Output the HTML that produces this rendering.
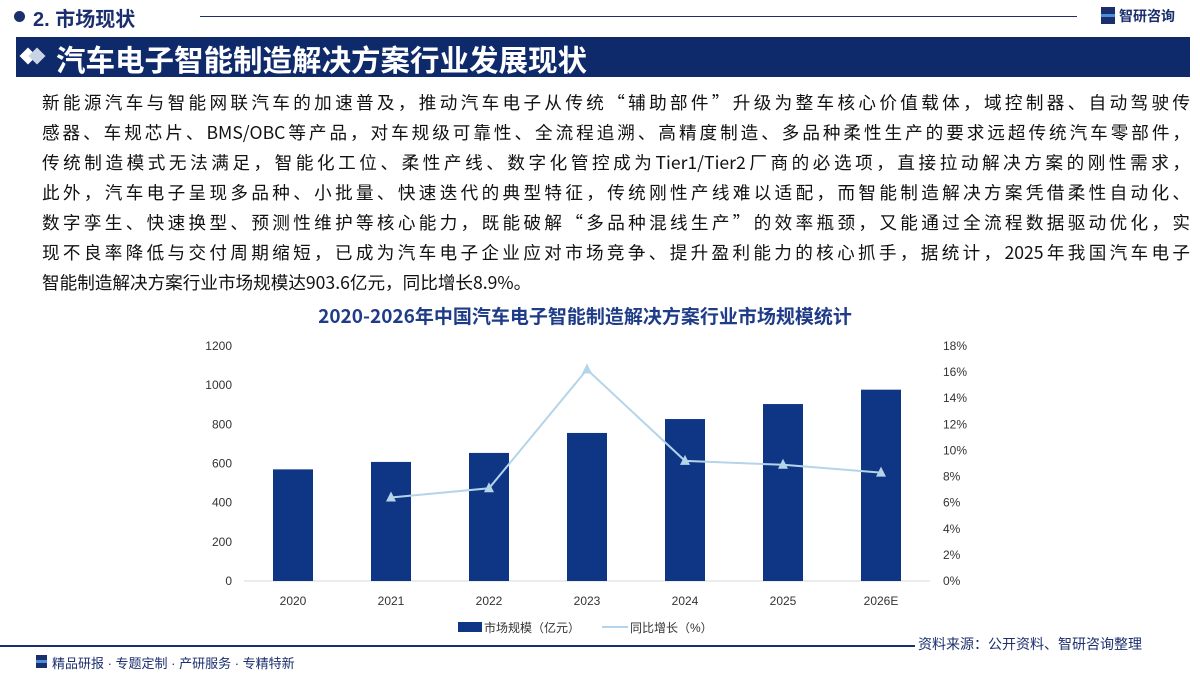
<!DOCTYPE html>
<html><head><meta charset="utf-8">
<style>
body{margin:0;width:1200px;height:674px;background:#fff;font-family:"Liberation Sans","Noto Sans CJK SC",sans-serif;position:relative;overflow:hidden;color:#111}
.abs{position:absolute}
.ln{position:absolute;left:42px;width:1148px;font-size:17.6px;height:30px;line-height:30px;color:#111;text-align:justify;text-align-last:justify;white-space:nowrap;font-family:"Noto Sans CJK SC",sans-serif}
.ln.last{text-align-last:left;width:auto}
</style></head><body>
<div class="abs" style="left:14px;top:11px;width:11px;height:11px;border-radius:50%;background:#1b2f6e"></div>
<div class="abs" style="left:33px;top:3px;font-size:20px;font-weight:bold;color:#1b2f6e">2. 市场现状</div>
<div class="abs" style="left:200px;top:16px;width:877px;height:1px;background:#1b2f6e"></div>
<div class="abs" style="left:1101px;top:7px;width:14px;height:17px;background:linear-gradient(#1b2f6e 0 40%,#4a90d9 40% 60%,#1b2f6e 60%)"></div>
<div class="abs" style="left:1119px;top:6px;font-size:14px;font-weight:bold;color:#1b2f6e">智研咨询</div>
<div class="abs" style="left:16px;top:37px;width:1174px;height:40px;background:#0f2a6b"></div>
<div class="abs" style="left:22px;top:50px;width:12px;height:12px;background:#fff;transform:rotate(45deg)"></div>
<div class="abs" style="left:31px;top:50px;width:12px;height:12px;background:#c9d3e6;transform:rotate(45deg)"></div>
<div class="abs" style="left:56px;top:38px;font-size:29.5px;font-weight:bold;color:#fff">汽车电子智能制造解决方案行业发展现状</div>
<div>
<div class="ln" style="top:88px">新能源汽车与智能网联汽车的加速普及，推动汽车电子从传统“辅助部件”升级为整车核心价值载体，域控制器、自动驾驶传</div>
<div class="ln" style="top:118px">感器、车规芯片、BMS/OBC等产品，对车规级可靠性、全流程追溯、高精度制造、多品种柔性生产的要求远超传统汽车零部件，</div>
<div class="ln" style="top:148px">传统制造模式无法满足，智能化工位、柔性产线、数字化管控成为Tier1/Tier2厂商的必选项，直接拉动解决方案的刚性需求，</div>
<div class="ln" style="top:178px">此外，汽车电子呈现多品种、小批量、快速迭代的典型特征，传统刚性产线难以适配，而智能制造解决方案凭借柔性自动化、</div>
<div class="ln" style="top:208px">数字孪生、快速换型、预测性维护等核心能力，既能破解“多品种混线生产”的效率瓶颈，又能通过全流程数据驱动优化，实</div>
<div class="ln" style="top:238px">现不良率降低与交付周期缩短，已成为汽车电子企业应对市场竞争、提升盈利能力的核心抓手，据统计，2025年我国汽车电子</div>
<div class="ln last" style="top:268px">智能制造解决方案行业市场规模达903.6亿元，同比增长8.9%。</div>
</div>
<div class="abs" style="left:0;width:1170px;text-align:center;top:302px;font-size:19px;font-weight:bold;color:#1f3c88;font-family:'Noto Sans CJK SC',sans-serif">2020-2026年中国汽车电子智能制造解决方案行业市场规模统计</div>
<svg class="abs" style="left:0;top:0" width="1200" height="674" id="chart"></svg>
<div class="abs" style="left:0;top:645px;width:915px;height:2px;background:#1b2f6e"></div>
<div class="abs" style="left:918px;top:634px;font-size:14px;color:#1b2f6e">资料来源：公开资料、智研咨询整理</div>
<div class="abs" style="left:36px;top:655px;width:11px;height:13px;background:linear-gradient(#1b2f6e 0 40%,#4a90d9 40% 60%,#1b2f6e 60%)"></div>
<div class="abs" style="left:52px;top:653px;font-size:13px;color:#1b2f6e">精品研报 · 专题定制 · 产研服务 · 专精特新</div>
<script>
const categories=["2020","2021","2022","2023","2024","2025","2026E"];
const marketSize=[570,608,654,756,827,903.6,977];
const growth=[null,6.4,7.1,16.2,9.2,8.9,8.3];
const leftTicks=[0,200,400,600,800,1000,1200];
const rightTicks=[0,2,4,6,8,10,12,14,16,18];
const svg=document.getElementById('chart');const NS='http://www.w3.org/2000/svg';
const x0=244,x1=930,yB=581,yT=346;
const band=(x1-x0)/categories.length;
const xs=i=>x0+band*(i+0.5);
const yL=v=>yB-(v/1200)*(yB-yT);
const yR=v=>yB-(v/18)*(yB-yT);
function mk(t,a){const e=document.createElementNS(NS,t);for(const k in a)e.setAttribute(k,a[k]);svg.appendChild(e);return e;}
let ax=mk('line',{x1:x0,x2:x1,y1:yB,y2:yB,stroke:'#d9d9d9'});


leftTicks.forEach(v=>{const t=mk('text',{x:232,y:yL(v)+4,'text-anchor':'end','font-size':12,fill:'#333'});t.textContent=v;

});
rightTicks.forEach(v=>{const t=mk('text',{x:943,y:yR(v)+4,'font-size':12,fill:'#333'});t.textContent=v+'%';

});
categories.forEach((c,i)=>{const r=mk('rect',{x:xs(i)-20,y:yL(marketSize[i]),width:40,height:yB-yL(marketSize[i]),fill:'#0f3684'});


const t=mk('text',{x:xs(i),y:605,'text-anchor':'middle','font-size':12,fill:'#333'});t.textContent=c;

});
const pts=[];growth.forEach((g,i)=>{if(g!=null)pts.push([xs(i),yR(g)]);});
const pl=mk('polyline',{points:pts.map(p=>p.join(',')).join(' '),fill:'none',stroke:'#b4d4ea','stroke-width':2});


pts.forEach(p=>{const m=mk('polygon',{points:`${p[0]},${p[1]-6} ${p[0]-5},${p[1]+4} ${p[0]+5},${p[1]+4}`,fill:'#b4d4ea'});

});
const lb=mk('rect',{x:458,y:622,width:24,height:10,fill:'#0f3684'});


const lt=mk('text',{x:484,y:632,'font-size':12,fill:'#333'});lt.textContent='市场规模（亿元）';


const ll=mk('line',{x1:602,x2:628,y1:627,y2:627,stroke:'#b4d4ea','stroke-width':2});


const lt2=mk('text',{x:630,y:632,'font-size':12,fill:'#333'});lt2.textContent='同比增长（%）';


</script>
</body></html>
